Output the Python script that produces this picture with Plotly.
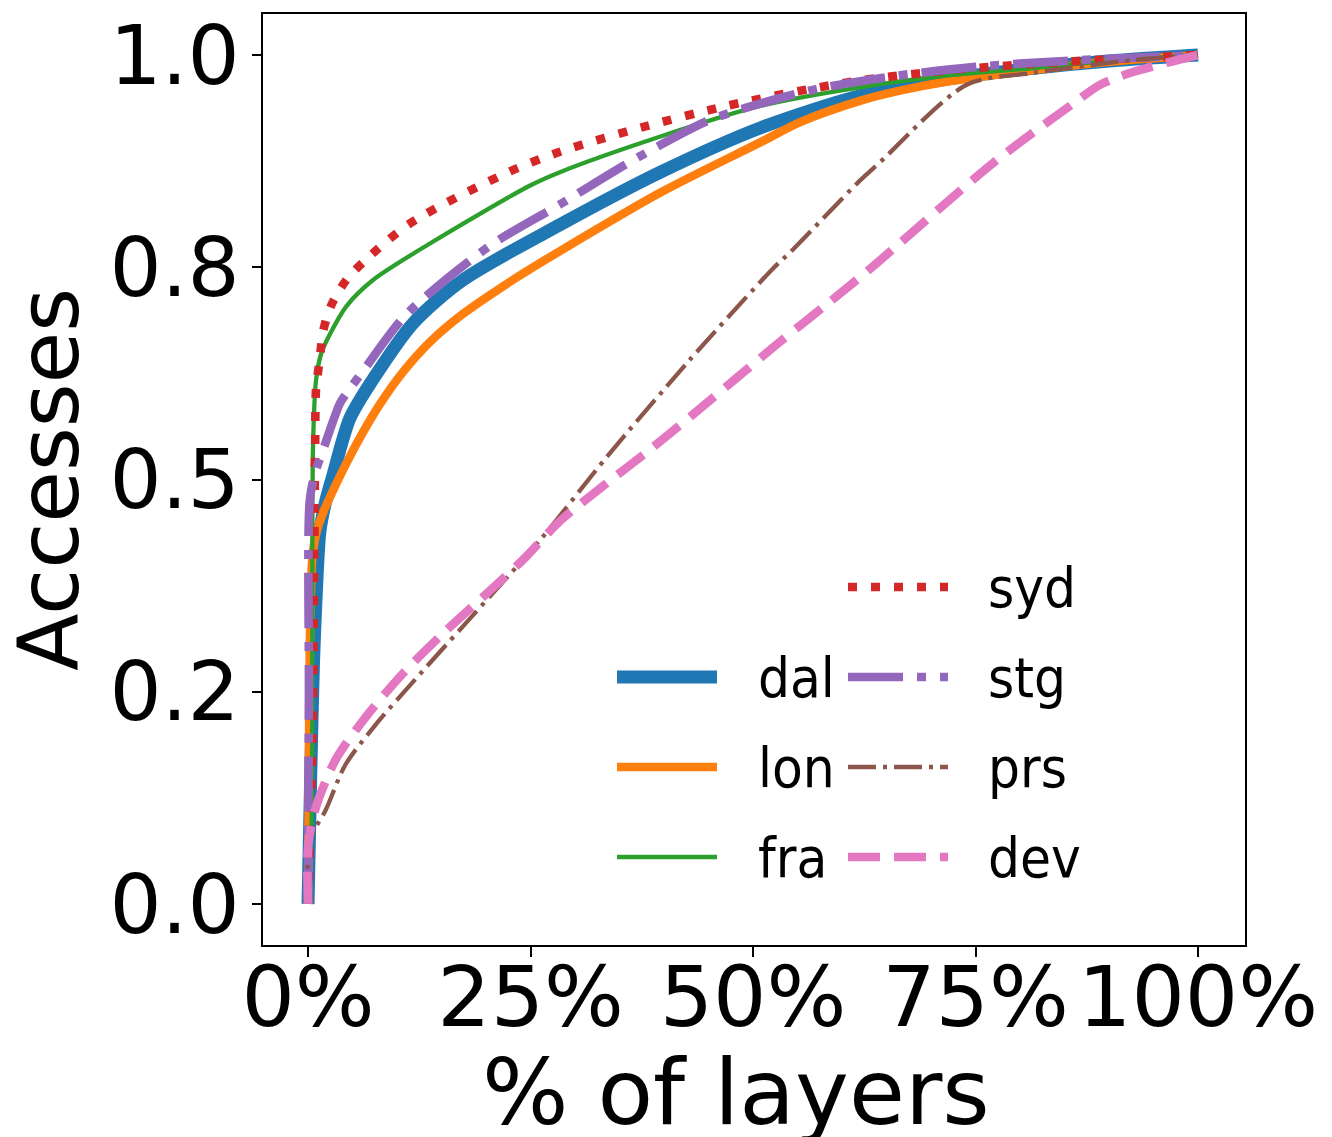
import plotly.graph_objects as go

W, H = 1332, 1137
L, R, T, B = 263, 1245, 14, 945  # plot area in pixels

# ---- data (fraction of layers, cumulative fraction of accesses) ----
names = ["dal", "lon", "fra", "syd", "stg", "prs", "dev"]

dal_x = [0, 0.003, 0.006, 0.009, 0.0135, 0.02, 0.028, 0.047, 0.073, 0.118, 0.174, 0.283, 0.396, 0.508, 0.62, 0.72, 0.82, 0.9, 1.0]
dal_y = [0, 0.15, 0.28, 0.36, 0.44, 0.475, 0.505, 0.572, 0.618, 0.684, 0.735, 0.80, 0.862, 0.914, 0.952, 0.972, 0.985, 0.993, 1.0]

lon_x = [0, 0.001, 0.002, 0.005, 0.01, 0.017, 0.025, 0.043, 0.062, 0.081, 0.107, 0.137, 0.174, 0.23, 0.283, 0.396, 0.508, 0.553, 0.62, 0.665, 0.72, 0.82, 0.9, 1.0]
lon_y = [0, 0.15, 0.30, 0.41, 0.44, 0.461, 0.48, 0.519, 0.556, 0.589, 0.627, 0.662, 0.695, 0.735, 0.769, 0.838, 0.897, 0.921, 0.946, 0.958, 0.969, 0.983, 0.992, 1.0]

fra_x = [0, 0.004, 0.0056, 0.009, 0.015, 0.025, 0.043, 0.073, 0.137, 0.249, 0.283, 0.396, 0.508, 0.62, 0.72, 0.82, 0.9, 1.0]
fra_y = [0, 0.10, 0.539, 0.617, 0.649, 0.672, 0.704, 0.735, 0.778, 0.846, 0.862, 0.904, 0.94, 0.962, 0.976, 0.985, 0.993, 1.0]

syd_x = [0, 0.005, 0.008, 0.009, 0.013, 0.017, 0.026, 0.043, 0.064, 0.115, 0.227, 0.283, 0.376, 0.47, 0.564, 0.62, 0.72, 0.82, 0.9, 1.0]
syd_y = [0, 0.20, 0.54, 0.607, 0.64, 0.675, 0.705, 0.735, 0.758, 0.802, 0.863, 0.886, 0.915, 0.94, 0.96, 0.970, 0.982, 0.99, 0.995, 1.0]

stg_x = [0, 0.001, 0.002, 0.008, 0.017, 0.036, 0.045, 0.062, 0.110, 0.204, 0.283, 0.36, 0.448, 0.499, 0.572, 0.658, 0.75, 0.85, 1.0]
stg_y = [0, 0.25, 0.476, 0.508, 0.535, 0.590, 0.604, 0.628, 0.694, 0.775, 0.824, 0.873, 0.922, 0.94, 0.96, 0.975, 0.986, 0.993, 1.0]

prs_x = [0, 0.002, 0.02, 0.042, 0.079, 0.12, 0.174, 0.261, 0.336, 0.429, 0.522, 0.545, 0.62, 0.643, 0.74, 0.815, 0.927, 1.0]
prs_y = [0, 0.075, 0.111, 0.164, 0.215, 0.264, 0.327, 0.429, 0.527, 0.641, 0.748, 0.771, 0.852, 0.874, 0.965, 0.979, 0.994, 1.0]

dev_x = [0, 0.0, 0.008, 0.031, 0.067, 0.107, 0.152, 0.197, 0.244, 0.281, 0.331, 0.384, 0.433, 0.482, 0.53, 0.58, 0.628, 0.77, 0.86, 0.89, 0.927, 1.0]
dev_y = [0, 0.067, 0.111, 0.17, 0.223, 0.272, 0.319, 0.362, 0.408, 0.449, 0.492, 0.535, 0.577, 0.62, 0.662, 0.704, 0.745, 0.873, 0.943, 0.965, 0.98, 1.0]

xs = [dal_x, lon_x, fra_x, syd_x, stg_x, prs_x, dev_x]
ys = [dal_y, lon_y, fra_y, syd_y, stg_y, prs_y, dev_y]

x_tickvals = [0, 0.25, 0.5, 0.75, 1.0]
x_ticktext = ["0%", "25%", "50%", "75%", "100%"]
y_tickvals = [0, 0.25, 0.5, 0.75, 1.0]
y_ticktext = ["0.0", "0.2", "0.5", "0.8", "1.0"]

# ---- styles ----
colors = ["#1f77b4", "#ff7f0e", "#2ca02c", "#d62728", "#9467bd", "#8c564b", "#e377c2"]
widths = [13, 8.6, 4.3, 8.6, 8.6, 4.3, 8.6]
dashes = ["solid", "solid", "solid", "9px,14px", "55px,14px,9px,14px", "28px,7px,4px,7px", "32px,14px"]

FONT = "DejaVu Sans"
LEG_FONT = "DejaVu Sans Condensed, DejaVu Sans"

fig = go.Figure()
for n, x, y, c, w, d in zip(names, xs, ys, colors, widths, dashes):
    fig.add_trace(go.Scatter(x=x, y=y, mode="lines", name=n,
                             line=dict(color=c, width=w, dash=d, shape="spline", smoothing=0.8),
                             showlegend=False))

def px2paper_x(px):
    return (px - L) / (R - L)

def px2paper_y(py):
    return (B - py) / (B - T)

# ---- manual legend (2 columns, first column offset by one row) ----
row_y = [587, 677, 767, 857]
col_line = [(617, 717), (848, 948)]
col_text = [756, 986]
slots = [(0, 1), (0, 2), (0, 3), (1, 0), (1, 1), (1, 2), (1, 3)]
shapes = []
annotations = []
for i, (col, row) in enumerate(slots):
    x0, x1 = col_line[col]
    yy = px2paper_y(row_y[row])
    shapes.append(dict(type="line", xref="paper", yref="paper",
                       x0=px2paper_x(x0), x1=px2paper_x(x1), y0=yy, y1=yy,
                       line=dict(color=colors[i], width=widths[i], dash=dashes[i])))
    annotations.append(dict(text=names[i], xref="paper", yref="paper",
                            x=px2paper_x(col_text[col]), y=yy,
                            xanchor="left", yanchor="middle", showarrow=False,
                            font=dict(family=LEG_FONT, size=56, color="black")))

# x-axis title as an annotation for exact placement
annotations.append(dict(text="% of layers", xref="paper", yref="paper",
                        x=px2paper_x(736), y=px2paper_y(1092),
                        xanchor="center", yanchor="middle", showarrow=False,
                        font=dict(family=FONT, size=91, color="black")))

fig.update_layout(
    width=W, height=H,
    margin=dict(l=L, r=W - R, t=T, b=H - B, pad=0, autoexpand=False),
    paper_bgcolor="white", plot_bgcolor="white",
    font=dict(family=FONT, color="black"),
    shapes=shapes, annotations=annotations,
    showlegend=False,
)
fig.update_xaxes(range=[-0.0506, 1.0528], tickvals=x_tickvals, ticktext=x_ticktext,
                 automargin=False, ticklabelstandoff=-32,
                 showgrid=False, zeroline=False, showline=True, mirror=True,
                 linecolor="black", linewidth=1.6, ticks="outside", ticklen=10,
                 tickwidth=1.6, tickcolor="black", tickfont=dict(size=84, family=FONT))
fig.update_yaxes(range=[-0.0483, 1.0483], tickvals=y_tickvals, ticktext=y_ticktext,
                 automargin=False, ticklabelstandoff=-4,
                 showgrid=False, zeroline=False, showline=True, mirror=True,
                 linecolor="black", linewidth=1.6, ticks="outside", ticklen=9,
                 tickwidth=1.6, tickcolor="black", tickfont=dict(size=82, family=FONT),
                 title=dict(text="Accesses", font=dict(size=84, family=FONT), standoff=14))

fig.write_html("out.html")
